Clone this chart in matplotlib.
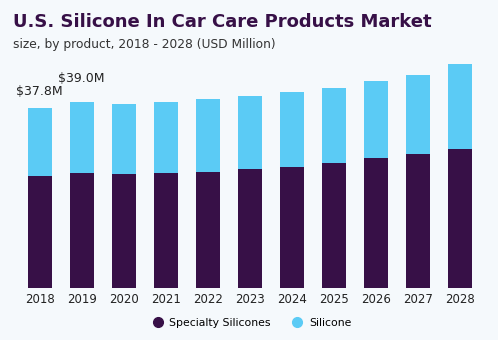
import matplotlib
matplotlib.use("Agg")
import matplotlib.pyplot as plt
import numpy as np
from matplotlib.lines import Line2D

years = ['2018', '2019', '2020', '2021', '2022', '2023', '2024', '2025', '2026', '2027', '2028']
specialty = [23.5, 24.1, 23.9, 24.2, 24.3, 25.0, 25.4, 26.3, 27.3, 28.1, 29.1]
silicone = [14.3, 14.9, 14.7, 14.9, 15.3, 15.3, 15.8, 15.7, 16.2, 16.6, 17.9]
labels = {0: '$37.8M', 1: '$39.0M'}

bg = '#F5F9FC'
darkColor = '#371047'
lightColor = '#5BCBF5'

fig = plt.figure(figsize=(4.98, 3.40), dpi=100, facecolor=bg)
ax = fig.add_axes([0.0376, 0.1544, 0.9277, 0.6986])
ax.set_facecolor(bg)

x = np.arange(len(years))
ax.bar(x, specialty, width=0.57, color=darkColor, label='Specialty Silicones')
ax.bar(x, silicone, width=0.57, bottom=specialty, color=lightColor, label='Silicone')

totals = [a + b for a, b in zip(specialty, silicone)]
offsets = {0: 10, 1: 17}
for i, txt in labels.items():
    ax.annotate(txt, (x[i], totals[i]), xytext=(0, offsets[i]), textcoords='offset pixels',
                ha='center', va='bottom', fontsize=9, color='#222222')

ax.set_xlim(-0.5, 10.5)
ax.set_ylim(0, 50)
ax.set_xticks(x)
ax.set_xticklabels(years, fontsize=8.5, color='#222222')
ax.tick_params(axis='x', length=0, pad=4)
ax.set_yticks([])
for s in ax.spines.values():
    s.set_visible(False)

fig.text(0.026, 0.935, 'U.S. Silicone In Car Care Products Market', fontsize=13,
         fontweight='heavy', color='#371047', va='center', ha='left')
fig.text(0.026, 0.870, 'size, by product, 2018 - 2028 (USD Million)', fontsize=8.8,
         color='#333333', va='center', ha='left')

handles = [Line2D([], [], marker='o', linestyle='', markersize=7, color=darkColor),
           Line2D([], [], marker='o', linestyle='', markersize=7, color=lightColor)]
fig.legend(handles, ['Specialty Silicones', 'Silicone'], loc='center', bbox_to_anchor=(0.5, 0.05),
           ncol=2, frameon=False, fontsize=7.8, handletextpad=0.1, columnspacing=1.4)

fig.savefig('out.png', dpi=100, facecolor=bg)
